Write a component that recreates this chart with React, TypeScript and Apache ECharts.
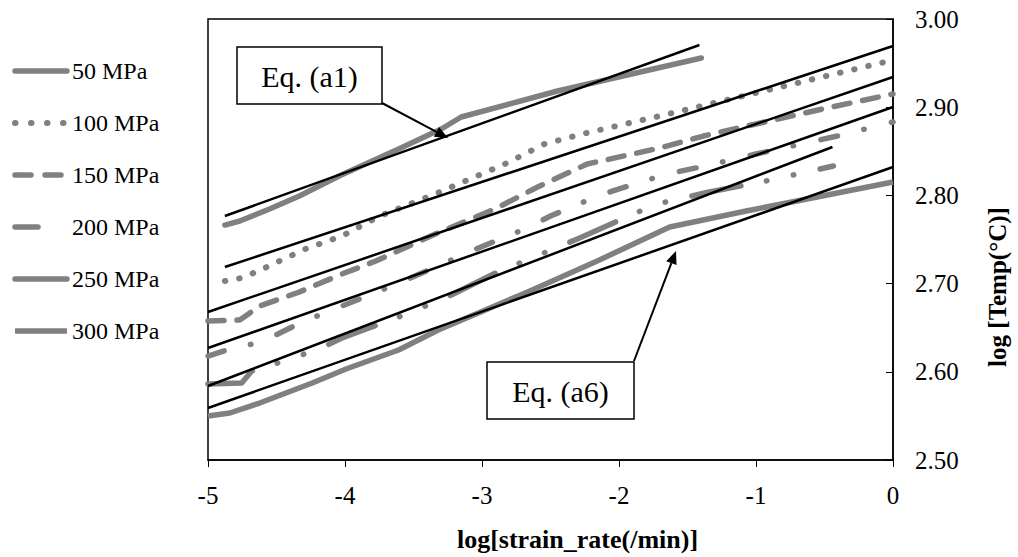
import React, { useEffect, useRef } from "react";
import * as echarts from "echarts";

// Measured curves: [log strain rate, log Temp]
const names = ["50 MPa", "100 MPa", "150 MPa", "200 MPa", "250 MPa", "300 MPa"];

const s50 = [
  [-4.877, 2.7664], [-4.768, 2.771], [-4.551, 2.7846], [-4.333, 2.7993], [-4.043, 2.822],
  [-3.609, 2.8526], [-3.297, 2.8753], [-3.152, 2.8889], [-2.449, 2.9184], [-1.399, 2.9558],
];
const s100 = [
  [-4.877, 2.7029], [-4.768, 2.706], [-4.648, 2.7132], [-4.478, 2.7256], [-4.29, 2.7392],
  [-4.022, 2.754], [-3.746, 2.7766], [-3.341, 2.8016], [-2.833, 2.8356], [-2.543, 2.8583],
  [-2.239, 2.8707], [-1.703, 2.89], [-1.094, 2.9127], [-0.638, 2.9297], [0, 2.9535],
];
const s150 = [
  [-5.0, 2.6576], [-4.768, 2.6587], [-4.623, 2.6746], [-4.333, 2.6905], [-4.022, 2.7109],
  [-3.775, 2.7256], [-3.341, 2.7562], [-2.906, 2.7846], [-2.594, 2.8095], [-2.232, 2.8356],
  [-1.703, 2.8537], [-1.384, 2.8673], [-1.0, 2.881], [-0.514, 2.898], [0, 2.915],
];
const s200 = [
  [-5.0, 2.6179], [-4.841, 2.6259], [-4.609, 2.6338], [-4.312, 2.6565], [-3.949, 2.6791],
  [-3.587, 2.7018], [-3.043, 2.7392], [-2.688, 2.7619], [-2.5, 2.7766], [-2.138, 2.8005],
  [-1.652, 2.8243], [-1.37, 2.8333], [-1.0, 2.8469], [-0.406, 2.8673], [0, 2.8832],
];
const s250 = [
  [-5.0, 2.5862], [-4.754, 2.5873], [-4.681, 2.6009], [-4.514, 2.6088], [-4.188, 2.6259],
  [-4.022, 2.6383], [-3.609, 2.6621], [-3.268, 2.6837], [-2.87, 2.7143], [-2.688, 2.7256],
  [-2.304, 2.7506], [-1.928, 2.7766], [-1.725, 2.7902], [-1.341, 2.8039], [-0.928, 2.8163],
  [-0.435, 2.8333],
];
const s300 = [
  [-5.0, 2.5499], [-4.841, 2.5533], [-4.623, 2.5646], [-4.239, 2.5873], [-3.993, 2.6032],
  [-3.609, 2.6247], [-3.319, 2.6474], [-2.667, 2.6905], [-2.159, 2.7256], [-1.63, 2.7642],
  [-1.072, 2.7823], [0, 2.8152],
];

// Fitted equations (a1)..(a6): end points
const fitA1 = [[-4.877, 2.7766], [-1.413, 2.9705]];
const fitA2 = [[-4.877, 2.7188], [0, 2.9694]];
const fitA3 = [[-5.0, 2.6678], [0, 2.9342]];
const fitA4 = [[-5.0, 2.627], [0, 2.9002]];
const fitA5 = [[-5.0, 2.5839], [-0.442, 2.8549]];
const fitA6 = [[-5.0, 2.559], [0, 2.8322]];

const xTicks = [-5, -4, -3, -2, -1, 0];
const yTicks = [2.5, 2.6, 2.7, 2.8, 2.9, 3.0];

const GRAY = "#808080";
const FONT = "Liberation Serif";

export default function App() {
  const ref = useRef<HTMLDivElement>(null);
  useEffect(() => {
    if (!ref.current) return;
    const chart = echarts.init(ref.current, null, { renderer: "svg" });
    const dataSeries = [s50, s100, s150, s200, s250, s300];
    const dashes: any[] = [
      "solid",
      [0.5, 14],
      [16, 13],
      [17, 27, 0.5, 28],
      [50, 26, 0.5, 27, 0.5, 27],
      "solid",
    ];
    const widths = [5.5, 6, 5.5, 5.5, 5.5, 5.5];
    const caps = ["round", "round", "round", "round", "round", "butt"];
    const legendDashes: any[] = ["solid", [0.5, 15.5], [16, 14], [23, 80], "solid", "solid"];
    const series: any[] = dataSeries.map((d, i) => ({
      name: names[i],
      type: "line",
      data: d,
      symbol: "none",
      smooth: false,
      z: 2,
      lineStyle: { color: GRAY, width: widths[i], type: dashes[i], cap: caps[i], join: "round" },
      itemStyle: { color: GRAY },
    }));
    [fitA1, fitA2, fitA3, fitA4, fitA5, fitA6].forEach((f, i) => {
      series.push({
        name: "fit" + (i + 1),
        type: "line",
        data: f,
        symbol: "none",
        z: 3,
        lineStyle: { color: "#000", width: 2.5 },
      });
    });

    const legendData = names.map((n, i) => ({
      name: n,
      lineStyle: { color: GRAY, width: widths[i], type: legendDashes[i], cap: caps[i] },
      itemStyle: { opacity: 0 },
    }));

    const arrow = (x1: number, y1: number, x2: number, y2: number) => {
      const ang = Math.atan2(y2 - y1, x2 - x1);
      const L = 13, W = 5.5;
      const bx = x2 - L * Math.cos(ang), by = y2 - L * Math.sin(ang);
      const px = -Math.sin(ang), py = Math.cos(ang);
      return [
        { type: "line", shape: { x1, y1, x2: bx, y2: by }, style: { stroke: "#000", lineWidth: 2 }, z: 10 },
        {
          type: "polygon",
          shape: { points: [[x2, y2], [bx + px * W, by + py * W], [bx - px * W, by - py * W]] },
          style: { fill: "#000" },
          z: 10,
        },
      ];
    };

    chart.setOption({
      animation: false,
      backgroundColor: "#fff",
      textStyle: { fontFamily: FONT },
      grid: {
        left: 208, right: 120, top: 19, bottom: 96,
        show: true, borderColor: "#000", borderWidth: 1.5, backgroundColor: "transparent",
      },
      legend: {
        orient: "vertical",
        left: 12,
        top: 59,
        padding: 0,
        itemWidth: 52,
        itemHeight: 14,
        itemGap: 28,
        data: legendData,
        itemStyle: { opacity: 0 },
        textStyle: { fontFamily: FONT, fontSize: 24, color: "#000" },
        selectedMode: false,
      },
      xAxis: {
        type: "value",
        min: xTicks[0],
        max: xTicks[xTicks.length - 1],
        interval: 1,
        axisLine: { show: true, lineStyle: { color: "#000", width: 1.5 } },
        axisTick: { show: true, inside: false, length: 7, lineStyle: { color: "#000" } },
        splitLine: { show: false },
        axisLabel: { color: "#000", fontFamily: FONT, fontSize: 25, margin: 23 },
        name: "log[strain_rate(/min)]",
        nameLocation: "middle",
        nameGap: 66,
        nameTextStyle: {
          color: "#000", fontFamily: FONT, fontSize: 26, fontWeight: "bold",
          padding: [0, 0, 0, 54],
        },
      },
      yAxis: {
        type: "value",
        position: "right",
        min: yTicks[0],
        max: yTicks[yTicks.length - 1],
        interval: 0.1,
        axisLine: { show: true, lineStyle: { color: "#000", width: 1.5 } },
        axisTick: { show: true, inside: true, length: 7, lineStyle: { color: "#000" } },
        splitLine: { show: false },
        axisLabel: {
          color: "#000", fontFamily: FONT, fontSize: 25, margin: 22,
          formatter: (v: number) => v.toFixed(2),
        },
        name: "log [Temp(°C)]",
        nameLocation: "middle",
        nameRotate: 90,
        nameGap: 92,
        nameTextStyle: {
          color: "#000", fontFamily: FONT, fontSize: 25, fontWeight: "bold",
          padding: [0, 95, 0, 0],
        },
      },
      series,
      graphic: [
        { type: "rect", shape: { x: 237, y: 47, width: 145, height: 57 }, style: { fill: "#fff", stroke: "#000", lineWidth: 1.5 }, z: 10 },
        { type: "text", x: 309.5, y: 76, style: { text: "Eq. (a1)", font: `30px ${FONT}`, fill: "#000", align: "center", verticalAlign: "middle" }, z: 11 },
        ...arrow(382, 103, 448, 138),
        { type: "rect", shape: { x: 487, y: 362, width: 147, height: 57 }, style: { fill: "#fff", stroke: "#000", lineWidth: 1.5 }, z: 10 },
        { type: "text", x: 560.5, y: 391, style: { text: "Eq. (a6)", font: `30px ${FONT}`, fill: "#000", align: "center", verticalAlign: "middle" }, z: 11 },
        ...arrow(634, 361, 676, 251),
      ],
    });
    return () => chart.dispose();
  }, []);
  return (
    <div
      ref={ref}
      style={{ position: "fixed", left: 0, top: 0, width: 1018, height: 557, background: "#fff" }}
    />
  );
}
